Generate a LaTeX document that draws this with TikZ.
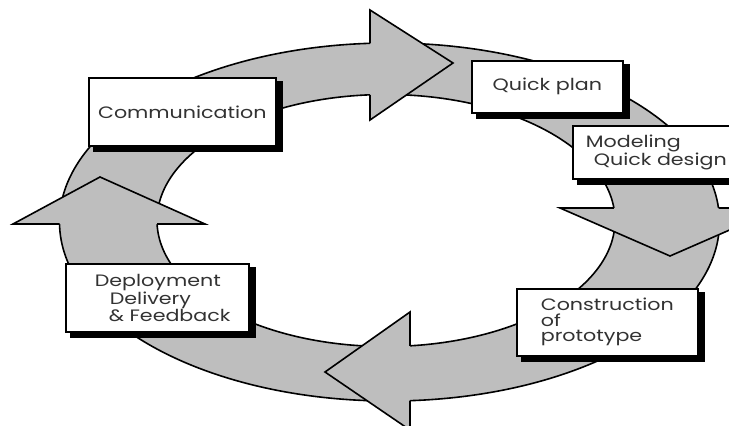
\documentclass[tikz,border=0pt]{standalone}
\usepackage{fontspec}
\setmainfont{Poppins}
\newfontfamily\boxfont[FakeStretch=1.25]{Poppins}
\definecolor{ringgray}{RGB}{190,190,190}
\definecolor{txtgray}{RGB}{50,50,50}
\tikzset{
  procbox/.style={draw, line width=1.7pt, fill=white,
    anchor=north west, inner xsep=0pt, inner ysep=0pt,
    font=\boxfont\fontsize{16.5}{15.5}\selectfont, text=txtgray},
  headfill/.style={fill=ringgray},
  headline/.style={draw=black, line width=1.6pt, line join=miter},
  ringline/.style={draw=black, line width=1.6pt},
  boxshadow/.style={fill=black}
}
\newcommand{\boxshade}[1]{%
  \fill[boxshadow] ([shift={(0,4)}]#1.north east) rectangle ([shift={(6,5)}]#1.south east);
  \fill[boxshadow] ([shift={(5,0)}]#1.south west) rectangle ([shift={(6,5)}]#1.south east);
}
\begin{document}
\begin{tikzpicture}[x=1pt,y=-1pt]
\useasboundingbox (0,0) rectangle (729,426);
\fill[white] (0,0) rectangle (729,426);
% ring
\fill[ringgray, even odd rule] (389.5,222) ellipse [x radius=330, y radius=179]
  (386,220.5) ellipse [x radius=229, y radius=126];
\draw[ringline] (389.5,222) ellipse [x radius=330, y radius=179];
\draw[ringline] (386,220.5) ellipse [x radius=229, y radius=126];
% arrowheads
\coordinate (t1) at (370,43.3); \coordinate (t2) at (370,10); \coordinate (t3) at (453,63);
\coordinate (t4) at (370,120); \coordinate (t5) at (370,94.8);
\fill[headfill] (t1)--(t2)--(t3)--(t4)--(t5)--cycle;
\draw[headline] (t1)--(t2)--(t3)--(t4)--(t5);
\coordinate (r1) at (613.9,208); \coordinate (r2) at (560,208); \coordinate (r3) at (670,256);
\coordinate (r4) at (780,208); \coordinate (r5) at (718.5,208);
\fill[headfill] (r1)--(r2)--(r3)--(r4)--(r5)--cycle;
\draw[headline] (r1)--(r2)--(r3)--(r4)--(r5);
\coordinate (b1) at (410,345.8); \coordinate (b2) at (410,312); \coordinate (b3) at (325,372);
\coordinate (b4) at (410,430); \coordinate (b5) at (410,400.6);
\fill[headfill] (b1)--(b2)--(b3)--(b4)--(b5)--cycle;
\draw[headline] (b1)--(b2)--(b3)--(b4)--(b5);
\coordinate (l1) at (59.5,224); \coordinate (l2) at (13,224); \coordinate (l3) at (100,177);
\coordinate (l4) at (205,224); \coordinate (l5) at (157.1,224);
\fill[headfill] (l1)--(l2)--(l3)--(l4)--(l5)--cycle;
\draw[headline] (l1)--(l2)--(l3)--(l4)--(l5);
% boxes
\node[procbox, align=center, minimum width=187pt, minimum height=68pt] (comm) at (88,77) {Communication};
\boxshade{comm}
\node[procbox, align=center, minimum width=151pt, minimum height=52pt] (plan) at (471,60) {Quick plan};
\boxshade{plan}
\node[procbox, align=left, text width=180pt, minimum height=53pt] (model) at (572,125)
  {\hspace*{13pt}Modeling\\\hspace*{21pt}Quick design};
\boxshade{model}
\node[procbox, align=left, text width=181pt, minimum height=67pt] (cons) at (516,288)
  {\hspace*{24pt}Construction\\\hspace*{24pt}of\\\hspace*{24pt}prototype};
\boxshade{cons}
\node[procbox, align=left, text width=183pt, minimum height=68pt] (dep) at (65,263)
  {\hspace*{29pt}Deployment\\\hspace*{44pt}Delivery\\\hspace*{43pt}\& Feedback};
\boxshade{dep}
\end{tikzpicture}
\end{document}
